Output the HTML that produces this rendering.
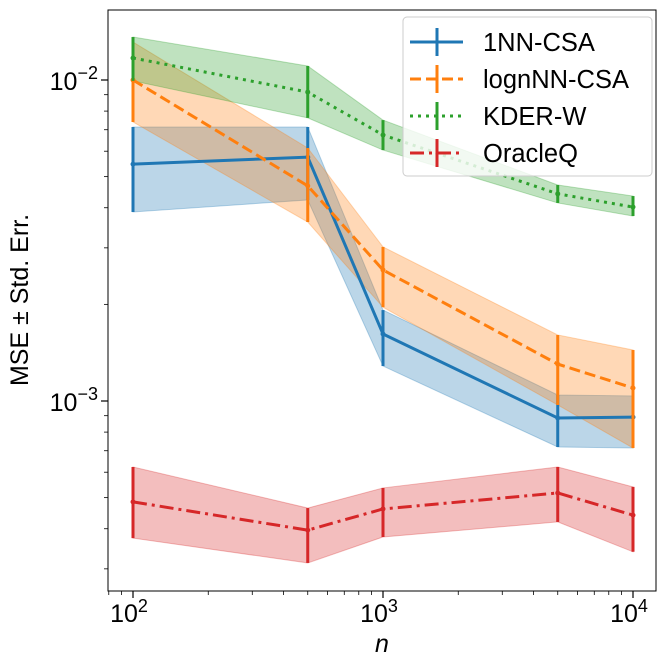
<!DOCTYPE html>
<html><head><meta charset="utf-8">
<style>
body{margin:0;background:#fff;}
svg{display:block;font-family:"Liberation Sans","DejaVu Sans",sans-serif;}
</style></head>
<body>
<svg id="chart" width="665" height="666" viewBox="0 0 665 666" xmlns="http://www.w3.org/2000/svg"></svg>
<script>
const ns="http://www.w3.org/2000/svg";
const svg=document.getElementById('chart');
// data
const nValues=[100,500,1000,5000,10000];
const seriesNames=["1NN-CSA","lognNN-CSA","KDER-W","OracleQ"];
const mean1NN=[0.00547,0.00575,0.001617,0.000885,0.000891];
const lo1NN=[0.00388,0.00423,0.001285,0.000719,0.000714];
const hi1NN=[0.00714,0.00714,0.00192,0.001044,0.001037];
const meanLogn=[0.0100,0.00468,0.00256,0.001303,0.001098];
const loLogn=[0.0074,0.00361,0.00196,0.000972,0.000714];
const hiLogn=[0.01313,0.00614,0.00302,0.001606,0.001442];
const meanKder=[0.01171,0.00917,0.00674,0.00442,0.00402];
const loKder=[0.00994,0.00762,0.00605,0.00414,0.00377];
const hiKder=[0.01361,0.01106,0.0075,0.00471,0.00435];
const meanOracle=[0.000485,0.000396,0.000461,0.000517,0.000441];
const loOracle=[0.000374,0.000313,0.000377,0.00042,0.000339];
const hiOracle=[0.000623,0.000464,0.000536,0.000623,0.00054];
const xTickLabels=["2","3","4"];
const yTickLabels=["-2","-3"];

const L=108,R=656,T=10,B=591;
const X=v=>133+250*(Math.log10(v)-2);
const Y=v=>80+321*(-2-Math.log10(v));
function el(tag,attrs,parent){const e=document.createElementNS(ns,tag);for(const k in attrs)e.setAttribute(k,attrs[k]);(parent||svg).appendChild(e);return e;}

const clip=el('clipPath',{id:'clip'});el('rect',{x:L,y:T,width:R-L,height:B-T},clip);
const plot=el('g',{'clip-path':'url(#clip)'});



const series=[
 {name:'1nn-csa',m:mean1NN,lo:lo1NN,hi:hi1NN,c:'#1f77b4',dash:'none'},
 {name:'lognnn-csa',m:meanLogn,lo:loLogn,hi:hiLogn,c:'#ff7f0e',dash:'11,5'},
 {name:'kder-w',m:meanKder,lo:loKder,hi:hiKder,c:'#2ca02c',dash:'3,5'},
 {name:'oracleq',m:meanOracle,lo:loOracle,hi:hiOracle,c:'#d62728',dash:'14,5,3,5'}
];
series.forEach(s=>{
  let d='';nValues.forEach((n,i)=>d+=(i?'L':'M')+X(n)+','+Y(s.hi[i]));
  for(let i=nValues.length-1;i>=0;i--)d+='L'+X(nValues[i])+','+Y(s.lo[i]);
  const band=el('path',{d:d+'Z',fill:s.c,'fill-opacity':0.3,stroke:s.c,'stroke-opacity':0.3},plot);
  
  
});
series.forEach(s=>{
  const g=el('g',{},plot);
  
  
  const pts=nValues.map((n,i)=>X(n)+','+Y(s.m[i])).join(' ');
  el('polyline',{points:pts,fill:'none',stroke:s.c,'stroke-width':3,'stroke-dasharray':s.dash},g);
  nValues.forEach((n,i)=>{
    const eb=el('line',{x1:X(n),x2:X(n),y1:Y(s.lo[i]),y2:Y(s.hi[i]),stroke:s.c,'stroke-width':3},g);
    
    
    el('circle',{cx:X(n),cy:Y(s.m[i]),r:2.5,fill:s.c},g);
  });
});
// axes frame
const frame=el('rect',{x:L,y:T,width:R-L,height:B-T,fill:'none',stroke:'#000','stroke-width':1});


// x ticks
for(let e=1;e<=4;e++){for(let k=1;k<10;k++){const v=k*Math.pow(10,e);const x=X(v);if(x<L||x>R)continue;
  el('line',{x1:x,x2:x,y1:B,y2:B+(k==1?7:4),stroke:'#000','stroke-width':k==1?1.2:0.8});}}
[2,3,4].forEach((e,i)=>{
  const t=el('text',{x:X(Math.pow(10,e))-4,y:B+31,'text-anchor':'middle','font-size':25});
  
  
  t.appendChild(document.createTextNode('10'));
  const sp=el('tspan',{dy:-10,'font-size':18},t);sp.textContent=xTickLabels[i];
});
// y ticks
for(let e=-5;e<=-1;e++){for(let k=1;k<10;k++){const v=k*Math.pow(10,e);const y=Y(v);if(y<T||y>B)continue;
  el('line',{x1:L,x2:L-(k==1?7:4),y1:y,y2:y,stroke:'#000','stroke-width':k==1?1.2:0.8});}}
[-2,-3].forEach((e,i)=>{
  const t=el('text',{x:L-10,y:Y(Math.pow(10,e))+10,'text-anchor':'end','font-size':25});
  
  
  t.appendChild(document.createTextNode('10'));
  const sp=el('tspan',{dy:-11,'font-size':18},t);sp.textContent='\u2212'+yTickLabels[i].slice(1);
});
const xt=el('text',{x:382,y:652,'text-anchor':'middle','font-size':25,'font-style':'italic'});


xt.textContent='n';
const yt=el('text',{x:0,y:0,transform:'translate(28,300) rotate(-90)','text-anchor':'middle','font-size':25});


yt.textContent='MSE \u00b1 Std. Err.';
// legend
const lg=el('g',{});


el('rect',{x:403,y:17,width:249,height:159,rx:4,fill:'#fff','fill-opacity':0.8,stroke:'#ccc'},lg);
series.forEach((s,i)=>{
  const y=42+i*37;
  const g=el('g',{},lg);
  
  
  el('line',{x1:410,x2:463,y1:y,y2:y,stroke:s.c,'stroke-width':3,'stroke-dasharray':s.dash},g);
  el('line',{x1:437,x2:437,y1:y-14,y2:y+14,stroke:s.c,'stroke-width':3},g);
  const t=el('text',{x:483,y:y+9,'font-size':25.5},g);t.textContent=seriesNames[i];
});
</script>
</body></html>
